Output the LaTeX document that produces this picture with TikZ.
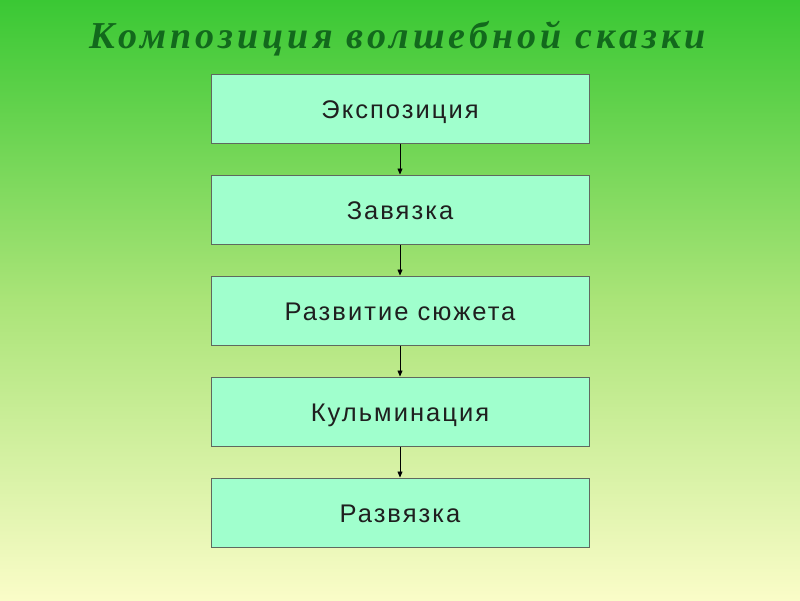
\documentclass[tikz,border=0pt]{standalone}
\usepackage{fontspec}
\setmainfont{Liberation Sans}[LetterSpace=8]
\newfontfamily\titlefont{Liberation Serif}[LetterSpace=11]
\usetikzlibrary{arrows.meta}
\definecolor{bgtop}{RGB}{58,200,52}
\definecolor{bgmid}{RGB}{170,228,120}
\definecolor{bgbot}{RGB}{250,252,200}
\definecolor{boxfill}{RGB}{160,255,205}
\definecolor{boxline}{RGB}{95,105,95}
\definecolor{titlegreen}{RGB}{18,105,28}
\begin{document}
\begin{tikzpicture}[x=1pt,y=-1pt,
  stagebox/.style={draw=boxline,line width=1pt,fill=boxfill,minimum width=378pt,minimum height=69pt,inner sep=0pt,text height=20pt,text depth=0pt,font=\fontsize{25.5}{28}\selectfont,text=black!88},
  flow/.style={draw=black,line width=0.7pt,-{Triangle[length=6pt,width=5pt]}}]
\shade[top color=bgtop,bottom color=bgbot,middle color=bgmid] (0,0) rectangle (800,600);
\useasboundingbox (0,0) rectangle (800,600);
\node[text=titlegreen,font=\titlefont\bfseries\itshape\fontsize{38}{44}\selectfont] (title) at (398,39) {Композиция волшебной сказки};
\node[stagebox] (s1) at (400,108.5) {Экспозиция};
\node[stagebox] (s2) at (400,209.5) {Завязка};
\node[stagebox] (s3) at (400,310.5) {Развитие сюжета};
\node[stagebox] (s4) at (400,411.5) {Кульминация};
\node[stagebox] (s5) at (400,512.5) {Развязка};
\draw[flow] (s1) -- (s2);
\draw[flow] (s2) -- (s3);
\draw[flow] (s3) -- (s4);
\draw[flow] (s4) -- (s5);
\end{tikzpicture}
\end{document}
